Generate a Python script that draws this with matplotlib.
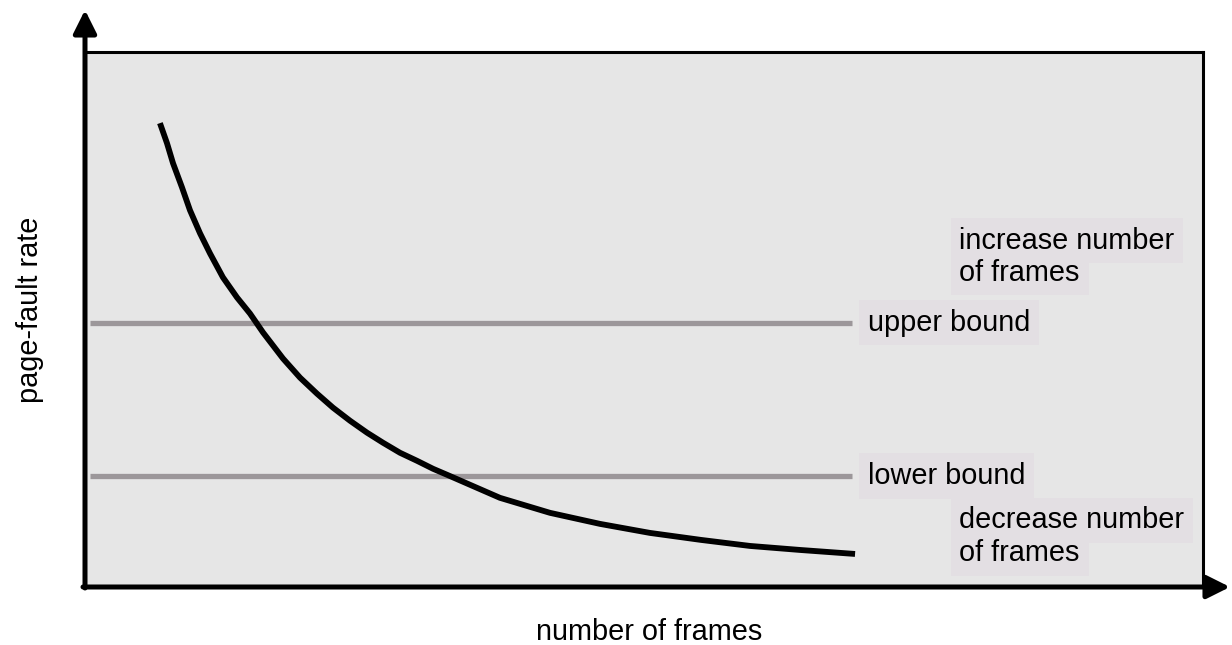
import matplotlib

matplotlib.use("Agg")
from matplotlib import pyplot as plt

# curve (x: number of frames, y: page-fault rate, both 0-100)
curve_x = [6.62, 7.25, 7.79, 8.59, 9.31, 10.21, 11.10, 12.26, 13.52, 14.68, 15.85,
           17.64, 19.16, 20.68, 22.11, 23.63, 25.16, 26.59, 28.11, 29.63, 31.07,
           32.32, 37.06, 41.54, 46.02, 50.49, 55.06, 59.45, 63.92, 68.85]
curve_y = [86.68, 82.93, 79.17, 74.67, 70.36, 66.04, 62.29, 57.79, 54.03, 51.03, 47.47,
           42.59, 39.02, 36.02, 33.40, 30.96, 28.71, 26.83, 24.95, 23.45, 21.95,
           20.83, 16.51, 13.70, 11.63, 9.94, 8.63, 7.50, 6.75, 6.00]

bound_x = [0.4, 68.6]
upper_bound = 49.3
lower_bound = 20.6

bound_labels = ["upper bound", "lower bound"]
action_labels = [["increase number", "of frames"], ["decrease number", "of frames"]]
action_y = [[64.7, 58.7], [12.3, 6.1]]

W, H = 1232, 645
BG = "#e6e6e6"
LABEL_BG = "#e3dfe3"
LINE_GRAY = "#9c979a"
FS = 20.8

plt.rcParams["font.family"] = ["Liberation Sans", "DejaVu Sans"]

fig = plt.figure(figsize=(W / 100, H / 100), dpi=100)
ax = fig.add_axes([86 / W, (H - 586) / H, 1117 / W, 534 / H])
ax.set_facecolor(BG)
ax.set_xlim(0, 100)
ax.set_ylim(0, 100)
ax.set_xticks([])
ax.set_yticks([])
for side in ("top", "right"):
    ax.spines[side].set_linewidth(2.2)
for side in ("left", "bottom"):
    ax.spines[side].set_visible(False)

ax.plot(bound_x, [upper_bound, upper_bound], color=LINE_GRAY, linewidth=3.8, solid_capstyle="butt")
ax.plot(bound_x, [lower_bound, lower_bound], color=LINE_GRAY, linewidth=3.8, solid_capstyle="butt")
ax.plot(curve_x, curve_y, color="black", linewidth=4.2, solid_capstyle="butt",
        solid_joinstyle="round")

box = dict(boxstyle="square,pad=0.3", facecolor=LABEL_BG, edgecolor="none")
for label, yv in zip(bound_labels, [upper_bound, lower_bound]):
    ax.text(70.0, yv, label, fontsize=FS, va="center", ha="left", bbox=box)
for lines, ys in zip(action_labels, action_y):
    for line, yv in zip(lines, ys):
        ax.text(78.2, yv, line, fontsize=FS, va="center", ha="left", bbox=box)

# axis arrows in figure pixels
arrow = dict(arrowstyle="-|>,head_length=1.4,head_width=0.7", color="black", lw=3.6,
             shrinkA=0, shrinkB=0)
ax.annotate("", xy=(85, H - 10), xytext=(85, H - 588), xycoords="figure pixels",
            textcoords="figure pixels", arrowprops=arrow, annotation_clip=False)
ax.annotate("", xy=(W - 2, H - 587), xytext=(83, H - 587), xycoords="figure pixels",
            textcoords="figure pixels", arrowprops=arrow, annotation_clip=False)

fig.text(649 / W, 1 - 632 / H, "number of frames", fontsize=FS, ha="center", va="center")
fig.text(30 / W, 1 - 310 / H, "page-fault rate", fontsize=FS, ha="center", va="center",
         rotation=90)

fig.savefig("out.png", dpi=100)
